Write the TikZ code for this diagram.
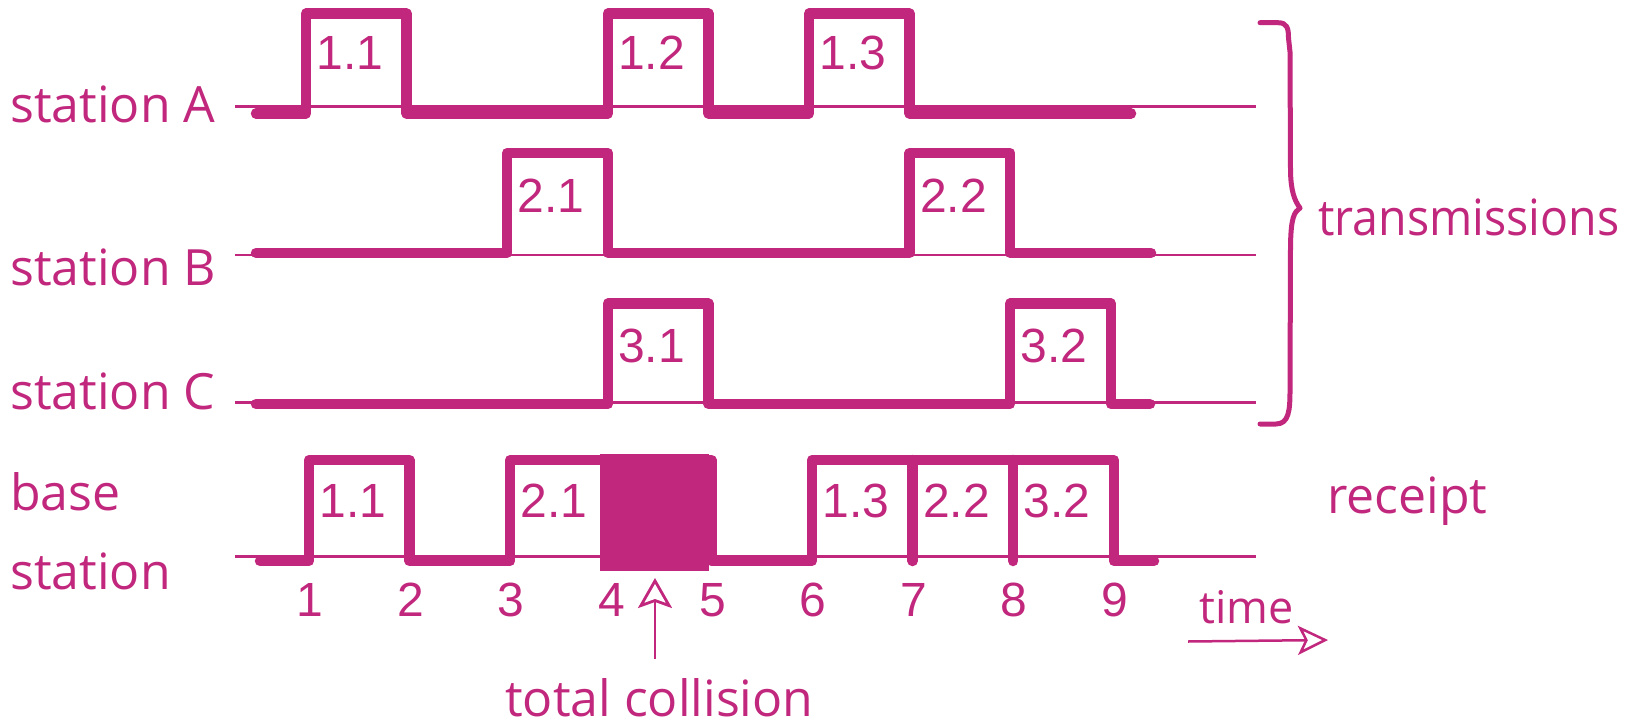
\documentclass[tikz,border=0pt]{standalone}
\usepackage{fontspec}
\usetikzlibrary{arrows.meta}
\newfontfamily\handfont{Open Sans}
\newfontfamily\numfont{Liberation Sans}
\definecolor{mag}{RGB}{193,39,124}
\begin{document}
\begin{tikzpicture}[x=1pt,y=-1pt,
  wave/.style={mag,line width=10.5pt,line cap=round,line join=round},
  thinline/.style={mag,line width=2.5pt},
  hand/.style={mag,inner sep=0pt,font=\handfont\fontsize{50}{60}\selectfont,anchor=base west},
  num/.style={mag,inner sep=0pt,font=\numfont\fontsize{48}{58}\selectfont},
  brace/.style={mag,line width=5pt,line cap=round,line join=round},
  pointer/.style={mag,line width=2.8pt,-{Stealth[open,fill=white,length=30pt,width=34pt,inset=6pt]}},
  timearrow/.style={mag,line width=2.5pt,-{Stealth[open,fill=white,length=30pt,width=29pt,inset=7pt]}},
]
\useasboundingbox (0,0) rectangle (1635,725);

% thin reference lines
\draw[thinline] (235,106.7) -- (1256,106.7);
\draw[thinline] (235,255) -- (1256,255);
\draw[thinline] (235,402.5) -- (1256,402.5);
\draw[thinline] (235,556.5) -- (1256,556.5);

% station A
\draw[wave] (256,113.5) -| (306,13.7) -| (406.6,113.5) -| (607.8,13.7) -| (708.4,113.5) -| (809,13.7) -| (909.6,113.5) -- (1131,113.5);
% station B
\draw[wave] (256,253) -| (507.2,153) -| (607.8,253) -| (909.6,153) -| (1010.2,253) -- (1151,253);
% station C
\draw[wave] (256,404) -| (607.8,303.7) -| (708.4,404) -| (1010.2,303.7) -| (1110.8,404) -- (1150,404);
% base station
\fill[mag] (600,454) rectangle (709,571);
\draw[wave] (260,561) -| (309,460) -| (409.6,561) -| (510.2,460) -| (711.4,561) -| (812,460) -| (1113.8,561) -- (1154,561);
\draw[wave] (912.6,460) -- (912.6,561);
\draw[wave] (1013.2,460) -- (1013.2,561);

% pulse labels
\node[num] (a11) at (349.8,52.7) {1.1};
\node[num] (a12) at (651.6,52.7) {1.2};
\node[num] (a13) at (852.8,52.7) {1.3};
\node[num] (b21) at (551,196) {2.1};
\node[num] (b22) at (953.4,196) {2.2};
\node[num] (c31) at (651.6,345.7) {3.1};
\node[num] (c32) at (1054,345.7) {3.2};
\node[num] (r11) at (352.8,501) {1.1};
\node[num] (r21) at (554,501) {2.1};
\node[num] (r13) at (855.8,501) {1.3};
\node[num] (r22) at (956.4,501) {2.2};
\node[num] (r32) at (1057,501) {3.2};

% time labels
\node[num] (t1) at (310,600) {1};
\node[num] (t2) at (410.6,600) {2};
\node[num] (t3) at (511.2,600) {3};
\node[num] (t4) at (611.8,600) {4};
\node[num] (t5) at (712.4,600) {5};
\node[num] (t6) at (813,600) {6};
\node[num] (t7) at (913.6,600) {7};
\node[num] (t8) at (1014.2,600) {8};
\node[num] (t9) at (1114.8,600) {9};

% left labels
\node[hand] (sA) at (10,122) {station A};
\node[hand] (sB) at (10,285) {station B};
\node[hand] (sC) at (10,409) {station C};
\node[hand] (sbase) at (10,510) {base};
\node[hand] (sstation) at (10,589) {station};

% right labels
\node[hand] (trans) at (1318,235) {\scalebox{0.93}[1]{transmissions}};
\node[hand] (rec) at (1327,513) {receipt};
\node[hand,font=\handfont\fontsize{45}{54}\selectfont] (time) at (1199,623) {time};
\node[hand] (coll) at (505,716.5) {total collision};

% brace
\draw[brace] (1260,22.7) -- (1278,22.7) .. controls (1287,22.7) and (1288.5,28) .. (1288.5,38) -- (1290,52) -- (1290.5,172) .. controls (1291,190) and (1294,200) .. (1300,208) .. controls (1294,212) and (1291,218) .. (1290.5,245) -- (1290,390) .. controls (1290,410) and (1289,424) .. (1276,424) -- (1260,424);

% arrows
\coordinate (collTail) at (655,659);
\coordinate (collTip) at (655,578);
\draw[pointer] (collTail) -- (collTip);
\coordinate (timeTail) at (1188,641.5);
\coordinate (timeTip) at (1328,640);
\draw[timearrow] (timeTail) -- (timeTip);
\end{tikzpicture}
\end{document}
